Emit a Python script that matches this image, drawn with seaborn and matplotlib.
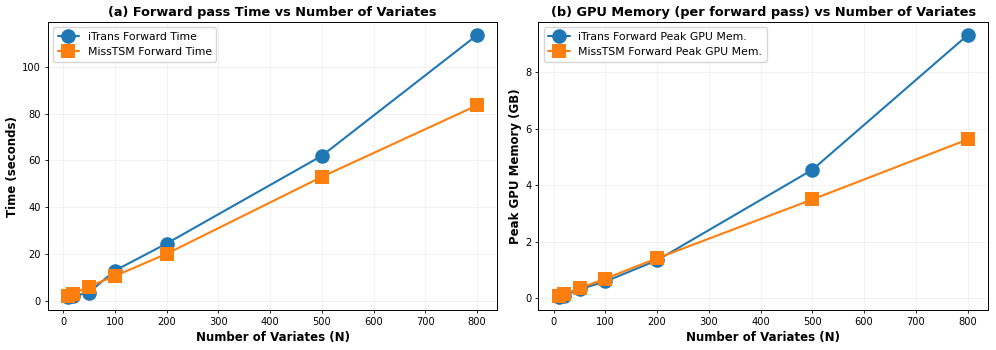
import matplotlib
matplotlib.use("Agg")
import matplotlib.pyplot as plt
import seaborn as sns
import pandas as pd

variates = [10, 20, 50, 100, 200, 500, 800]
itrans_time = [1.5, 2.0, 3.4, 12.8, 24.4, 62.0, 113.7]
misstsm_time = [2.0, 3.0, 6.0, 10.5, 20.0, 53.0, 83.6]
itrans_mem = [0.05, 0.10, 0.32, 0.60, 1.35, 4.55, 9.31]
misstsm_mem = [0.08, 0.15, 0.36, 0.70, 1.42, 3.50, 5.62]

sns.set_style("ticks")
plt.rcParams['font.family'] = ['DejaVu Sans']
plt.rcParams.update({
    "text.color": "black",
    "axes.labelcolor": "black",
    "xtick.color": "black",
    "ytick.color": "black",
    "axes.edgecolor": "black",
    "axes.linewidth": 0.7,
    "grid.linewidth": 0.6,
})

df_time = pd.DataFrame({
    "N": variates * 2,
    "val": itrans_time + misstsm_time,
    "series": ["iTrans Forward Time"] * 7 + ["MissTSM Forward Time"] * 7,
})
df_mem = pd.DataFrame({
    "N": variates * 2,
    "val": itrans_mem + misstsm_mem,
    "series": ["iTrans Forward Peak GPU Mem."] * 7 + ["MissTSM Forward Peak GPU Mem."] * 7,
})

fig, axes = plt.subplots(1, 2, figsize=(9.96, 3.5), dpi=100)
palette = ["#1f77b4", "#ff7f0e"]

for ax, df, title, ylabel in [
    (axes[0], df_time, "(a) Forward pass Time vs Number of Variates", "Time (seconds)"),
    (axes[1], df_mem, "(b) GPU Memory (per forward pass) vs Number of Variates", "Peak GPU Memory (GB)"),
]:
    sns.lineplot(data=df, x="N", y="val", hue="series", style="series",
                 markers=["o", "s"], dashes=False, palette=palette,
                 markersize=10.5, linewidth=1.5, markeredgewidth=0, ax=ax)
    ax.set_title(title, fontweight="bold", fontsize=9.3, pad=4)
    ax.set_xlabel("Number of Variates (N)", fontweight="bold", fontsize=8.5, labelpad=2.5)
    ax.set_ylabel(ylabel, fontweight="bold", fontsize=8.5, labelpad=2.5)
    ax.grid(True, alpha=0.3)
    ax.set_xticks([0, 100, 200, 300, 400, 500, 600, 700, 800])
    ax.tick_params(labelsize=7.1, length=2.5, width=0.6, pad=2.5)
    ax.legend(loc="upper left", fontsize=7.8, title=None)

axes[0].set_yticks([0, 20, 40, 60, 80, 100])
axes[1].set_yticks([0, 2, 4, 6, 8])

fig.subplots_adjust(left=0.048, right=0.992, top=0.937, bottom=0.114, wspace=0.091)
fig.savefig("out.png", dpi=100)
